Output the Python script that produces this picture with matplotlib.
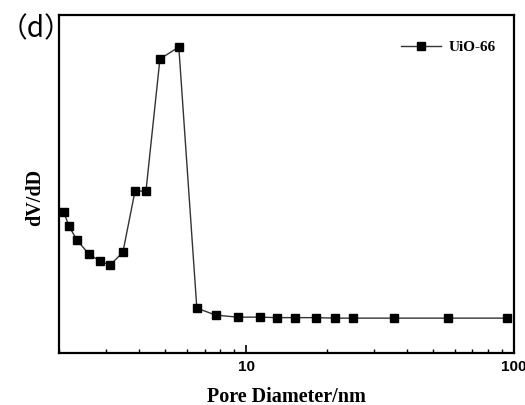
import numpy as np
import matplotlib.pyplot as plt

# pore size distribution of UiO-66 (BJH), dV/dD in arbitrary units
pore_d = [1.88, 2.09, 2.18, 2.34, 2.59, 2.85, 3.11, 3.47, 3.85, 4.23, 4.77, 5.61,
          6.55, 7.71, 9.31, 11.25, 13.0, 15.2, 18.2, 21.4, 25.0, 35.6, 56.5, 94.0]
dv_dd = [0.153, 0.141, 0.127, 0.113, 0.099, 0.092, 0.088, 0.101, 0.162, 0.162, 0.294, 0.306,
         0.045, 0.038, 0.036, 0.036, 0.0355, 0.0355, 0.0355, 0.035, 0.035, 0.035, 0.035, 0.035]
series_label = "UiO-66"
panel_tag = "（d）"

fig = plt.figure(figsize=(5.25, 4.05), dpi=100)
ax = fig.add_axes([0.112, 0.128, 0.867, 0.835])

ax.plot(pore_d, dv_dd, color="#333333", lw=1.0, marker="s", ms=6,
        mfc="black", mec="black", label=series_label)

ax.set_xscale("log")
ax.set_xlim(2, 100)
ax.set_ylim(0, 0.338)
ax.set_yticks([])

ax.tick_params(axis="x", which="major", direction="in", length=6, width=1.2,
               top=False, pad=5)
ax.tick_params(axis="x", which="minor", direction="in", length=3, width=1.0, top=False)
ax.set_xticks([10, 100])
ax.set_xticklabels(["10", "100"], fontweight="bold", family="Liberation Sans", fontsize=11)

for sp in ax.spines.values():
    sp.set_linewidth(1.6)

ax.set_xlabel("Pore Diameter/nm", family="Liberation Serif", fontweight="bold",
              fontsize=14.5, labelpad=9)
ax.set_ylabel("dV/dD", family="Liberation Serif", fontweight="bold", fontsize=14.5)
ax.yaxis.set_label_coords(-0.03, 0.46)

leg = ax.legend(loc="upper right", frameon=False, handlelength=2.6, handletextpad=0.5,
                bbox_to_anchor=(0.99, 0.965),
                prop={"family": "Liberation Serif", "weight": "bold", "size": 11})

fig.text(0.0, 0.928, panel_tag, family=["Noto Sans CJK SC", "DejaVu Sans"],
         fontsize=20, va="center", ha="left")

fig.savefig("out.png", dpi=100)
